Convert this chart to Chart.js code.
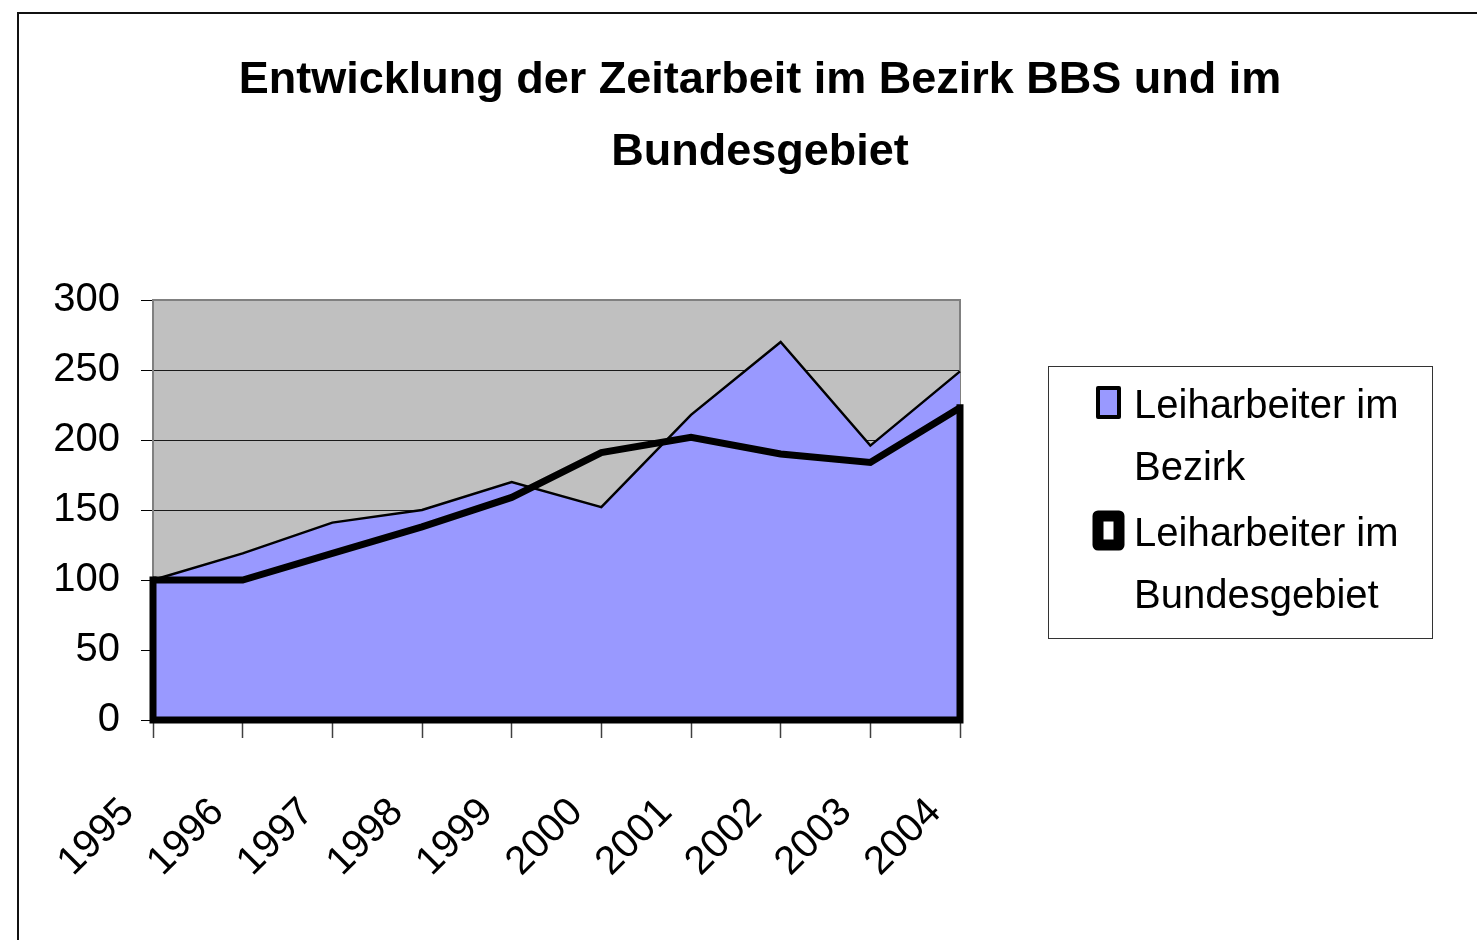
<!DOCTYPE html>
<html lang="de">
<head>
<meta charset="utf-8">
<title>Entwicklung der Zeitarbeit im Bezirk BBS und im Bundesgebiet</title>
<script src="https://cdn.jsdelivr.net/npm/chart.js@4.4.1/dist/chart.umd.min.js"></script>
<style>
  html, body { margin: 0; padding: 0; background: #fff; overflow: hidden; }
  #wrap { width: 1477px; height: 940px; position: relative; }
</style>
</head>
<body>
<div id="wrap"><canvas id="chart" width="1477" height="940"></canvas></div>
<script>
const FONT = "'Liberation Sans Narrow', 'Arial Narrow', 'Liberation Sans', Arial, sans-serif";

// data
const years = ['1995', '1996', '1997', '1998', '1999', '2000', '2001', '2002', '2003', '2004'];
const bezirk = [100, 119, 141, 150, 170, 152, 218, 270, 196, 249];
const bundesgebiet = [100, 100, 119, 138, 159, 191, 202, 190, 184, 223];
const yMin = 0;
const yMax = 300;
const yStep = 50;
const titleLines = ['Entwicklung der Zeitarbeit im Bezirk BBS und im', 'Bundesgebiet'];
const seriesNames = ['Leiharbeiter im Bezirk', 'Leiharbeiter im Bundesgebiet'];
const legendLines = [['Leiharbeiter im', 'Bezirk'], ['Leiharbeiter im', 'Bundesgebiet']];

// white page, outer frame, grey plot area
const backdrop = {
  id: 'backdrop',
  beforeDraw(chart) {
    const { ctx, chartArea: a } = chart;
    ctx.save();
    ctx.fillStyle = '#fff';
    ctx.fillRect(0, 0, chart.width, chart.height);
    ctx.strokeStyle = '#111';
    ctx.lineWidth = 2;
    ctx.beginPath();
    ctx.moveTo(18, chart.height + 5);
    ctx.lineTo(18, 13);
    ctx.lineTo(chart.width + 5, 13);
    ctx.stroke();
    ctx.fillStyle = '#C0C0C0';
    ctx.fillRect(a.left, a.top, a.right - a.left, a.bottom - a.top);
    ctx.restore();
  },
  beforeDatasetsDraw(chart) {
    const { ctx, chartArea: a } = chart;
    ctx.save();
    ctx.strokeStyle = '#808080';
    ctx.lineWidth = 2;
    ctx.beginPath();
    ctx.moveTo(a.left, a.top);
    ctx.lineTo(a.right, a.top);
    ctx.lineTo(a.right, a.bottom);
    ctx.stroke();
    ctx.restore();
  }
};

// Excel area series keep their outline on the sides and the base
const closeOutline = {
  id: 'closeOutline',
  afterDatasetsDraw(chart) {
    const { ctx } = chart;
    const y0 = chart.scales.y.getPixelForValue(0);
    chart.data.datasets.forEach((ds, i) => {
      if (!ds.closeBorder) return;
      const pts = chart.getDatasetMeta(i).data;
      const first = pts[0];
      const last = pts[pts.length - 1];
      ctx.save();
      ctx.strokeStyle = ds.borderColor;
      ctx.lineWidth = ds.borderWidth;
      ctx.lineJoin = 'miter';
      ctx.lineCap = 'square';
      ctx.beginPath();
      ctx.moveTo(last.x, last.y);
      ctx.lineTo(last.x, y0);
      ctx.lineTo(first.x, y0);
      ctx.lineTo(first.x, first.y);
      ctx.stroke();
      ctx.restore();
    });
  }
};

// boxed legend to the right of the plot, labels wrap over two lines
const boxLegend = {
  id: 'boxLegend',
  afterDraw(chart) {
    const { ctx, chartArea: a } = chart;
    const box = { x: a.right + 88, y: a.top + 66, w: 384, h: 272 };
    ctx.save();
    ctx.fillStyle = '#fff';
    ctx.fillRect(box.x, box.y, box.w, box.h);
    ctx.strokeStyle = '#333';
    ctx.lineWidth = 1;
    ctx.strokeRect(box.x + 0.5, box.y + 0.5, box.w, box.h);

    ctx.font = `40px ${FONT}`;
    ctx.textAlign = 'left';
    ctx.textBaseline = 'alphabetic';
    const entryTop = [0, 128];
    chart.data.datasets.forEach((ds, i) => {
      const top = box.y + entryTop[i];
      const mw = Math.round(ds.borderWidth * 1.5);
      ctx.fillStyle = ds.fill ? ds.backgroundColor : '#fff';
      ctx.strokeStyle = ds.borderColor;
      ctx.lineWidth = mw;
      ctx.lineJoin = 'round';
      ctx.beginPath();
      ctx.rect(box.x + 50, top + 22, 21, 29);
      ctx.fill();
      ctx.stroke();
      ctx.fillStyle = '#000';
      legendLines[i].forEach((line, j) => {
        ctx.fillText(line, box.x + 86, top + 52 + j * 62);
      });
    });
    ctx.restore();
  }
};

new Chart(document.getElementById('chart'), {
  type: 'line',
  data: {
    labels: years,
    datasets: [
      {
        label: seriesNames[0],
        data: bezirk,
        fill: 'origin',
        backgroundColor: '#9999FF',
        borderColor: '#000',
        borderWidth: 2.5,
        borderJoinStyle: 'miter',
        pointRadius: 0,
        tension: 0,
        order: 2
      },
      {
        label: seriesNames[1],
        data: bundesgebiet,
        fill: false,
        backgroundColor: 'rgba(0,0,0,0)',
        borderColor: '#000',
        borderWidth: 7,
        borderJoinStyle: 'miter',
        pointRadius: 0,
        tension: 0,
        order: 1,
        closeBorder: true
      }
    ]
  },
  options: {
    responsive: false,
    animation: false,
    devicePixelRatio: 1,
    layout: { padding: { left: 43, right: 0, top: 0, bottom: 0 } },
    plugins: {
      legend: { display: false },
      tooltip: { enabled: false },
      title: {
        display: true,
        text: titleLines,
        color: '#000',
        font: { family: FONT, size: 45, weight: 'bold', lineHeight: 1.6 },
        padding: { top: 45, bottom: 111 }
      }
    },
    scales: {
      x: {
        type: 'category',
        offset: false,
        afterFit(s) { s.height = 220; },
        grid: {
          drawOnChartArea: false,
          drawTicks: true,
          tickLength: 18,
          tickColor: '#404040',
          tickWidth: 1.5
        },
        border: { display: true, color: '#000', width: 2 },
        ticks: {
          autoSkip: false,
          maxRotation: 45,
          minRotation: 45,
          padding: 51,
          labelOffset: -25,
          color: '#000',
          font: { family: FONT, size: 40 }
        }
      },
      y: {
        type: 'linear',
        position: 'left',
        min: yMin,
        max: yMax,
        afterFit(s) { s.width = 110; },
        grid: {
          color: '#1a1a1a',
          lineWidth: 1,
          drawTicks: true,
          tickLength: 12,
          tickColor: '#000'
        },
        border: { display: true, color: '#808080', width: 2 },
        ticks: {
          stepSize: yStep,
          padding: 21,
          color: '#000',
          font: { family: FONT, size: 40 }
        }
      },
      yRight: {
        type: 'linear',
        position: 'right',
        display: true,
        afterFit(s) { s.width = 517; },
        grid: { display: false },
        border: { display: false },
        ticks: { display: false }
      }
    }
  },
  plugins: [backdrop, closeOutline, boxLegend]
});
</script>
</body>
</html>
